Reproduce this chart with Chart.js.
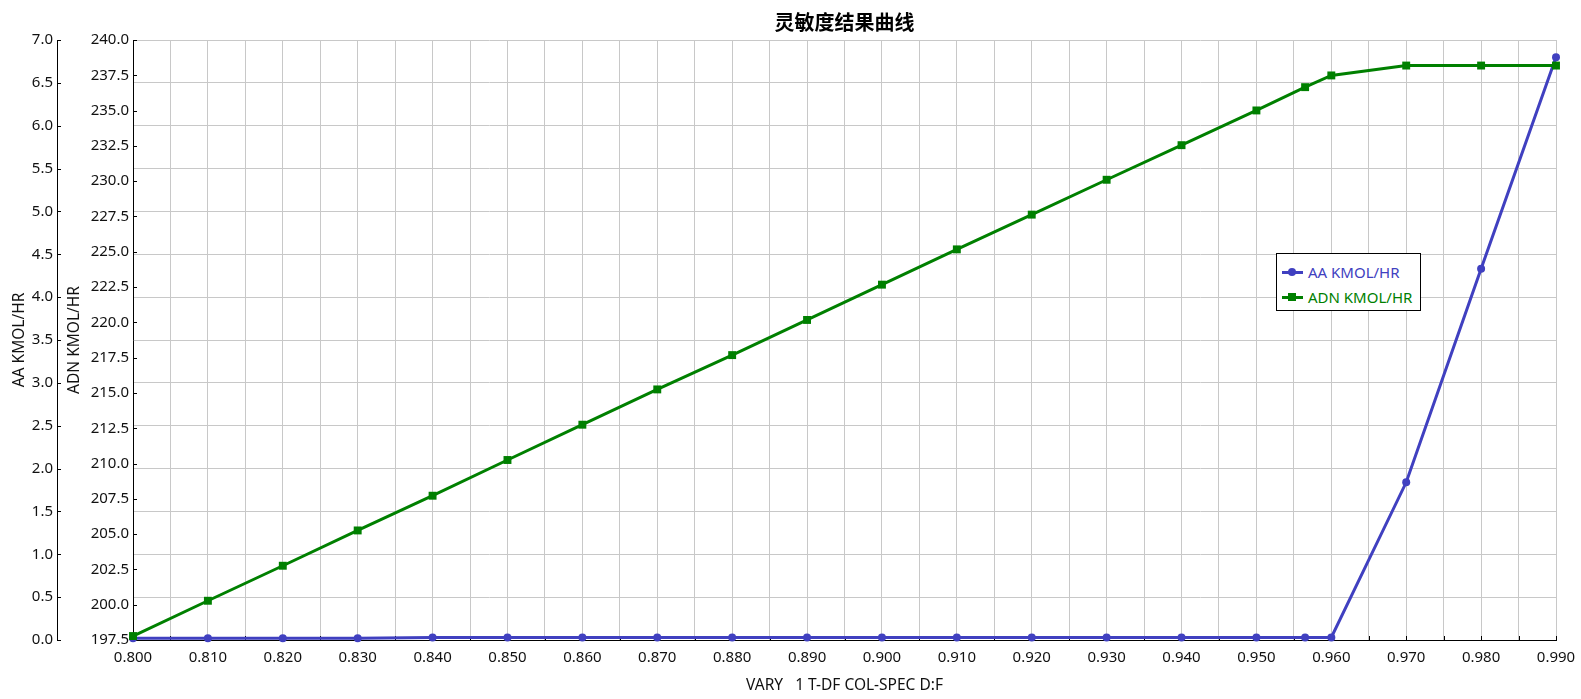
<!DOCTYPE html>
<html>
<head>
<meta charset="utf-8">
<script src="https://cdn.jsdelivr.net/npm/chart.js@4.4.0/dist/chart.umd.min.js"></script>
<style>
  body { margin: 0; background: #fff; }
  #wrap { position: relative; width: 1581px; height: 699px; }
  #legend {
    position: absolute; left: 1276px; top: 253px; width: 143px; height: 56px;
    border: 1px solid #000; background: #fff;
    font: 15px "Noto Sans", sans-serif;
  }
  #legend .row { position: absolute; left: 5px; height: 20px; display: flex; align-items: center; }
  #legend .mark { position: relative; width: 21px; height: 20px; margin-right: 5px; }
  #legend .line { position: absolute; left: 0; right: 0; top: 8.5px; height: 3px; }
  #legend .dot { position: absolute; left: 6px; top: 6px; width: 8px; height: 8px; }
</style>
</head>
<body>
<div id="wrap">
  <canvas id="chart"></canvas>
  <div id="legend"></div>
</div>
<script>
  const xValues = [0.800, 0.810, 0.820, 0.830, 0.840, 0.850, 0.860, 0.870, 0.880, 0.890, 0.900,
                   0.910, 0.920, 0.930, 0.940, 0.950, 0.9565, 0.960, 0.970, 0.980, 0.990];
  const aaValues = [0.02, 0.02, 0.02, 0.02, 0.03, 0.03, 0.03, 0.03, 0.03, 0.03, 0.03,
                    0.03, 0.03, 0.03, 0.03, 0.03, 0.03, 0.03, 1.84, 4.33, 6.80];
  const adnValues = [197.78, 200.28, 202.76, 205.26, 207.72, 210.25, 212.75, 215.25, 217.68, 220.17, 222.67,
                     225.17, 227.63, 230.10, 232.55, 235.01, 236.66, 237.49, 238.19, 238.19, 238.19];

  const chartTitle = '灵敏度结果曲线';
  const xTitle = 'VARY   1 T-DF COL-SPEC D:F';
  const aaLabel = 'AA KMOL/HR';
  const adnLabel = 'ADN KMOL/HR';

  const blue = '#4040c0';
  const green = '#008000';
  const gridColor = '#c8c8c8';
  const font = '"Noto Sans", "Noto Sans CJK SC", sans-serif';

  // small inward tick marks like the original
  const innerTicks = {
    id: 'innerTicks',
    beforeDatasetsDraw(chart) {
      const ctx = chart.ctx;
      ctx.save();
      ctx.beginPath();
      ctx.strokeStyle = '#000';
      ctx.lineWidth = 1;
      const x = chart.scales.x;
      x.ticks.forEach(t => {
        const px = Math.round(x.getPixelForValue(t.value)) + 0.5;
        ctx.moveTo(px, x.top);
        ctx.lineTo(px, x.top - 4);
      });
      ['yAA', 'yADN'].forEach(id => {
        const s = chart.scales[id];
        s.ticks.forEach(t => {
          const py = Math.round(s.getPixelForValue(t.value)) + 0.5;
          ctx.moveTo(s.right, py);
          ctx.lineTo(s.right + 4, py);
        });
      });
      ctx.stroke();
      ctx.restore();
    }
  };

  const chart = new Chart(document.getElementById('chart'), {
    type: 'line',
    data: {
      datasets: [
        {
          label: aaLabel,
          data: xValues.map((x, i) => ({ x: x, y: aaValues[i] })),
          yAxisID: 'yAA',
          borderColor: blue,
          backgroundColor: blue,
          borderWidth: 3,
          pointStyle: 'circle',
          pointRadius: 4,
          pointBorderWidth: 0,
          order: 1,
          clip: false
        },
        {
          label: adnLabel,
          data: xValues.map((x, i) => ({ x: x, y: adnValues[i] })),
          yAxisID: 'yADN',
          borderColor: green,
          backgroundColor: green,
          borderWidth: 3,
          pointStyle: 'rect',
          pointRadius: 5.6,
          pointBorderWidth: 0,
          order: 0,
          clip: false
        }
      ]
    },
    options: {
      responsive: true,
      maintainAspectRatio: false,
      animation: false,
      layout: { padding: { left: 0, right: 25, top: 0, bottom: 0 } },
      plugins: {
        legend: { display: false },
        tooltip: { enabled: false },
        title: {
          display: true,
          fullSize: false,
          text: chartTitle,
          color: '#000',
          font: { family: font, size: 20, weight: 'bold' },
          padding: { top: 12, bottom: 4 }
        }
      },
      scales: {
        x: {
          type: 'linear',
          min: 0.8,
          max: 0.99,
          grid: { color: gridColor, drawTicks: false },
          border: { color: '#000', width: 1 },
          ticks: {
            stepSize: 0.005,
            autoSkip: false,
            maxRotation: 0,
            padding: 9,
            color: '#111',
            font: { family: font, size: 15 },
            callback: v => Math.round(v * 1000) % 10 === 0 ? v.toFixed(3) : ''
          },
          title: {
            display: true,
            text: xTitle,
            color: '#111',
            font: { family: font, size: 15.5 },
            padding: { top: 0, bottom: 4 }
          },
          afterFit: s => { s.height = 59; s.paddingLeft = 0; s.paddingRight = 0; }
        },
        yADN: {
          type: 'linear',
          position: 'left',
          weight: 1,
          min: 197.5,
          max: 240,
          grid: { drawOnChartArea: false, drawTicks: false },
          border: { color: '#000', width: 1 },
          ticks: {
            stepSize: 2.5,
            padding: 4,
            color: '#111',
            font: { family: font, size: 15 },
            callback: v => v.toFixed(1)
          },
          title: {
            display: true,
            text: adnLabel,
            color: '#111',
            font: { family: font, size: 15.5 },
            padding: { top: 8, bottom: 0 }
          },
          afterFit: s => { s.width = 76; }
        },
        yAA: {
          type: 'linear',
          position: 'left',
          weight: 2,
          min: 0,
          max: 7,
          grid: { color: gridColor, drawTicks: false },
          border: { color: '#000', width: 1 },
          ticks: {
            stepSize: 0.5,
            padding: 4,
            color: '#111',
            font: { family: font, size: 15 },
            callback: v => v.toFixed(1)
          },
          title: {
            display: true,
            text: aaLabel,
            color: '#111',
            font: { family: font, size: 15.5 },
            padding: { top: 10, bottom: 0 }
          },
          afterFit: s => { s.width = 57; }
        }
      }
    },
    plugins: [innerTicks]
  });

  // legend box built from the datasets
  const legend = document.getElementById('legend');
  chart.data.datasets.forEach((ds, i) => {
    const row = document.createElement('div');
    row.className = 'row';
    row.style.top = (8 + i * 25) + 'px';
    const mark = document.createElement('div');
    mark.className = 'mark';
    const line = document.createElement('div');
    line.className = 'line';
    line.style.background = ds.borderColor;
    const dot = document.createElement('div');
    dot.className = 'dot';
    dot.style.background = ds.borderColor;
    if (ds.pointStyle === 'circle') dot.style.borderRadius = '50%';
    mark.appendChild(line);
    mark.appendChild(dot);
    const text = document.createElement('span');
    text.textContent = ds.label;
    text.style.color = ds.borderColor;
    row.appendChild(mark);
    row.appendChild(text);
    legend.appendChild(row);
  });
</script>
</body>
</html>
